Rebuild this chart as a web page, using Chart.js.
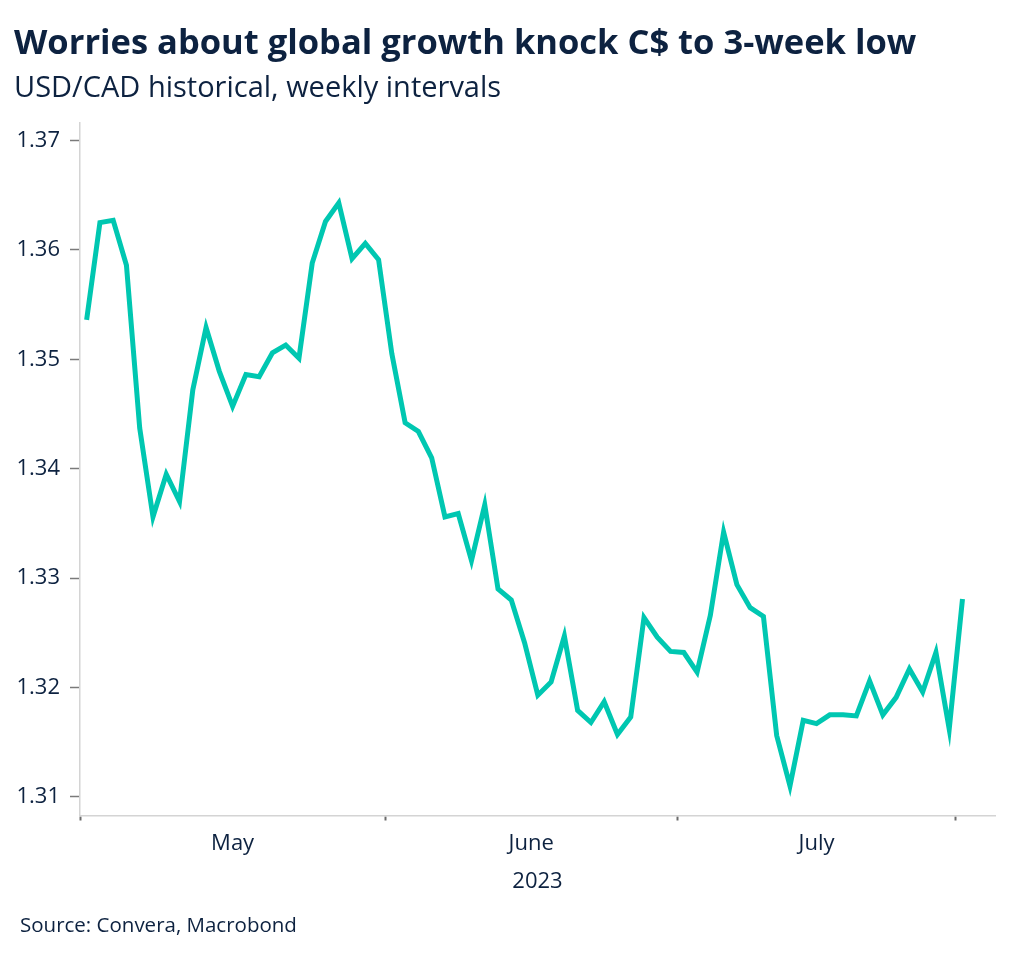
<!DOCTYPE html>
<html>
<head>
<meta charset="utf-8">
<script src="https://cdn.jsdelivr.net/npm/chart.js@4/dist/chart.umd.min.js"></script>
<style>
  html, body { margin: 0; padding: 0; background: #ffffff; }
  #wrap { position: relative; width: 1024px; height: 958px; overflow: hidden; }
  #c { position: absolute; left: 0; top: 0; }
  .txt { position: absolute; white-space: nowrap; color: #0d2240; font-family: "Open Sans", sans-serif; }
  #title { left: 14px; top: 24px; font-size: 34.5px; line-height: 34.5px; font-weight: 700; }
  #subtitle { left: 14px; top: 71px; font-size: 29px; line-height: 29px; font-weight: 400; }
  #source { left: 20px; top: 914px; font-size: 20.5px; line-height: 20.5px; font-weight: 400; }
</style>
</head>
<body>
<div id="wrap">
  <canvas id="c" width="1024" height="958"></canvas>
  <div class="txt" id="title">Worries about global growth knock C$ to 3-week low</div>
  <div class="txt" id="subtitle">USD/CAD historical, weekly intervals</div>
  <div class="txt" id="source">Source: Convera, Macrobond</div>
</div>
<script>
// ---- data ----
const dates = [
  '2023-05-01','2023-05-02','2023-05-03','2023-05-04','2023-05-05',
  '2023-05-08','2023-05-09','2023-05-10','2023-05-11','2023-05-12',
  '2023-05-15','2023-05-16','2023-05-17','2023-05-18','2023-05-19',
  '2023-05-22','2023-05-23','2023-05-24','2023-05-25','2023-05-26',
  '2023-05-29','2023-05-30','2023-05-31',
  '2023-06-01','2023-06-02',
  '2023-06-05','2023-06-06','2023-06-07','2023-06-08','2023-06-09',
  '2023-06-12','2023-06-13','2023-06-14','2023-06-15','2023-06-16',
  '2023-06-19','2023-06-20','2023-06-21','2023-06-22','2023-06-23',
  '2023-06-26','2023-06-27','2023-06-28','2023-06-29','2023-06-30',
  '2023-07-03','2023-07-04','2023-07-05','2023-07-06','2023-07-07',
  '2023-07-10','2023-07-11','2023-07-12','2023-07-13','2023-07-14',
  '2023-07-17','2023-07-18','2023-07-19','2023-07-20','2023-07-21',
  '2023-07-24','2023-07-25','2023-07-26','2023-07-27','2023-07-28',
  '2023-07-31',
  '2023-08-01'
];
const usdcad = [
  1.3536, 1.3625, 1.3627, 1.3586, 1.3437,
  1.3356, 1.3395, 1.3370, 1.3472, 1.3529,
  1.3489, 1.3457, 1.3486, 1.3484, 1.3506,
  1.3513, 1.3501, 1.3588, 1.3626, 1.3643,
  1.3592, 1.3606, 1.3591,
  1.3505, 1.3442,
  1.3434, 1.3410, 1.3356, 1.3359, 1.3316,
  1.3367, 1.3290, 1.3280, 1.3241, 1.3193,
  1.3205, 1.3247, 1.3179, 1.3168, 1.3187,
  1.3157, 1.3173, 1.3264, 1.3246, 1.3233,
  1.3232, 1.3214, 1.3266, 1.3342, 1.3294,
  1.3273, 1.3265, 1.3156, 1.3110, 1.3170,
  1.3167, 1.3175, 1.3175, 1.3174, 1.3206,
  1.3175, 1.3191, 1.3217, 1.3196, 1.3232,
  1.3162,
  1.3281
];
const yTicks = [1.31, 1.32, 1.33, 1.34, 1.35, 1.36, 1.37];
const monthNames = ['May', 'June', 'July'];
const yearLabel = '2023';

// ---- derived month boundaries / centers (index space) ----
const bounds = [-0.5];
for (let i = 1; i < dates.length; i++) {
  if (dates[i].slice(5, 7) !== dates[i - 1].slice(5, 7)) bounds.push(i - 0.5);
}
const centers = [];
for (let k = 0; k < monthNames.length; k++) centers.push((bounds[k] + bounds[k + 1]) / 2);
const labelAt = {};
centers.forEach((c, k) => { labelAt[c.toFixed(2)] = monthNames[k]; });
const isBound = v => bounds.some(b => Math.abs(b - v) < 1e-6);

const NAVY = '#0d2240';
const FONT = '"Open Sans", sans-serif';

new Chart(document.getElementById('c'), {
  type: 'line',
  data: {
    datasets: [{
      label: 'USD/CAD',
      data: usdcad.map((v, i) => ({ x: i, y: v })),
      borderColor: '#00c7b1',
      borderWidth: 5,
      pointRadius: 0,
      tension: 0,
      borderJoinStyle: 'miter',
      borderCapStyle: 'butt',
      fill: false
    }]
  },
  options: {
    responsive: false,
    animation: false,
    events: [],
    layout: { padding: { top: 123, right: 29, left: 0, bottom: 0 } },
    plugins: { legend: { display: false }, tooltip: { enabled: false }, title: { display: false } },
    scales: {
      x: {
        type: 'linear',
        min: -0.5,
        max: 68.45,
        afterFit: s => { s.height = 142.5; },
        afterBuildTicks: s => {
          const t = [];
          bounds.forEach(b => t.push({ value: b }));
          centers.forEach(c => t.push({ value: c }));
          t.sort((a, b) => a.value - b.value);
          s.ticks = t;
        },
        border: { display: true, color: '#d4d4d4', width: 1.5 },
        grid: {
          drawOnChartArea: false,
          drawTicks: true,
          tickLength: 5,
          tickWidth: 2,
          tickColor: ctx => (ctx.tick && isBound(ctx.tick.value)) ? '#6b6b6b' : 'rgba(0,0,0,0)'
        },
        ticks: {
          autoSkip: false,
          maxRotation: 0,
          padding: 10,
          color: NAVY,
          font: { family: FONT, size: 22 },
          callback: v => labelAt[Number(v).toFixed(2)] || ''
        },
        title: {
          display: true,
          text: yearLabel,
          color: NAVY,
          font: { family: FONT, size: 22 },
          padding: { top: 0, bottom: 63 }
        }
      },
      y: {
        type: 'linear',
        min: 1.3083,
        max: 1.3716,
        afterFit: s => { s.width = 80; },
        afterBuildTicks: s => { s.ticks = yTicks.map(v => ({ value: v })); },
        border: { display: true, color: '#d4d4d4', width: 1.5 },
        grid: {
          drawOnChartArea: false,
          drawTicks: true,
          tickLength: 10,
          tickWidth: 1.5,
          tickColor: '#7a7a7a'
        },
        ticks: {
          padding: 10,
          color: NAVY,
          font: { family: FONT, size: 22 },
          callback: v => Number(v).toFixed(2)
        }
      }
    }
  }
});
</script>
</body>
</html>
